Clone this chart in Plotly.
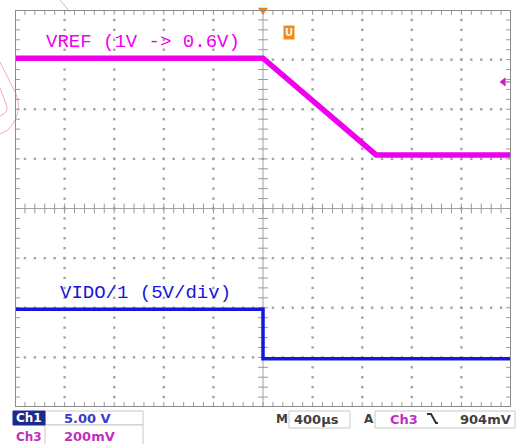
import numpy as np
import plotly.graph_objects as go

# ---------------- data ----------------
t_vref_us = [-2000, 0, 912, 2000]        # Ch3 time points (µs)
vref_v = [1.0, 1.0, 0.61, 0.61]          # Ch3 VREF (V)
t_vido_us = [-2000, 0, 0, 2000]          # Ch1 time points (µs)
vido_v = [5.0, 5.0, 0.0, 0.0]            # Ch1 VIDO (V)
trace_labels = ["VREF (1V -> 0.6V)", "VIDO/1 (5V/div)"]
ch1_scale_label = "5.00 V"
ch3_scale_label = "200mV"
timebase_label = "400µs"
trig_level_label = "904mV"
trig_level_v = 0.904

# ---------------- scope settings ----------------
US_PER_DIV = 400
CH3_V_PER_DIV = 0.2
CH3_REF_V, CH3_REF_DIV = 1.0, 3.03
CH1_V_PER_DIV = 5.0
CH1_ZERO_DIV = -3.03

def ch3_div(v):
    return [(x - CH3_REF_V) / CH3_V_PER_DIV + CH3_REF_DIV for x in v]

def ch1_div(v):
    return [x / CH1_V_PER_DIV + CH1_ZERO_DIV for x in v]

MAGENTA = "#ee00ee"
BLUE = "#1616dc"
GRID = "#a4a4a4"
FRAME = "#8c8c8c"

# pixel -> paper helpers (plot area 15..511 x 10..407)
L, R, T, B = 15, 511, 10, 407
def PX(x):
    return (x - L) / (R - L)
def PY(y):
    return (B - y) / (B - T)

fig = go.Figure()

# ---------------- graticule ----------------
xmin, xmax = -5 * US_PER_DIV, 5 * US_PER_DIV
fine_x = np.arange(xmin, xmax + 1e-6, US_PER_DIV / 5)
fine_y = np.round(np.arange(-4, 4 + 1e-6, 0.2), 3)

dx, dy = [], []
for k in range(-4, 5):
    if k == 0:
        continue
    for yy in fine_y:
        dx.append(k * US_PER_DIV); dy.append(yy)
for j in range(-3, 4):
    if j == 0:
        continue
    for xx in fine_x:
        dx.append(xx); dy.append(j)
fig.add_trace(go.Scatter(x=dx, y=dy, mode="markers", hoverinfo="skip",
                         marker=dict(symbol="square", size=2.4, color=GRID, line=dict(width=0)),
                         showlegend=False))

# center lines
fig.add_shape(type="line", x0=xmin, x1=xmax, y0=0, y1=0, line=dict(color=GRID, width=1), layer="below")
fig.add_shape(type="line", x0=0, x1=0, y0=-4, y1=4, line=dict(color=GRID, width=1), layer="below")

# ticks on center lines and edges
tx = list(fine_x) * 3
ty = [0] * len(fine_x) + [4] * len(fine_x) + [-4] * len(fine_x)
fig.add_trace(go.Scatter(x=tx, y=ty, mode="markers", hoverinfo="skip",
                         marker=dict(symbol="line-ns", size=7, line=dict(color="#999999", width=1)),
                         showlegend=False))
ux = [0] * len(fine_y) + [xmin] * len(fine_y) + [xmax] * len(fine_y)
uy = list(fine_y) * 3
fig.add_trace(go.Scatter(x=ux, y=uy, mode="markers", hoverinfo="skip",
                         marker=dict(symbol="line-ew", size=7, line=dict(color="#999999", width=1)),
                         showlegend=False))

# ---------------- waveforms ----------------
fig.add_trace(go.Scatter(x=t_vref_us, y=ch3_div(vref_v), mode="lines",
                         line=dict(color=MAGENTA, width=5.5), showlegend=False))
fig.add_trace(go.Scatter(x=t_vido_us, y=ch1_div(vido_v), mode="lines",
                         line=dict(color=BLUE, width=3.5), showlegend=False))

# trigger level marker (right edge) and trigger position marker (top)
fig.add_trace(go.Scatter(x=[xmax - 60], y=ch3_div([trig_level_v]), mode="markers",
                         marker=dict(symbol="triangle-left", size=8, color="#c020c0"),
                         cliponaxis=False, showlegend=False))
fig.add_trace(go.Scatter(x=[xmax - 40, xmax - 10], y=ch3_div([trig_level_v]) * 2, mode="lines",
                         line=dict(color="#c020c0", width=1), showlegend=False))
fig.add_trace(go.Scatter(x=[0], y=[4], mode="markers",
                         marker=dict(symbol="triangle-down", size=9, color="#f08010"),
                         cliponaxis=False, showlegend=False))

# frame
fig.add_shape(type="rect", x0=xmin, x1=xmax, y0=-4, y1=4, line=dict(color=FRAME, width=2))

# ---------------- trace labels ----------------
fig.add_annotation(x=PX(44), y=PY(42), xref="paper", yref="paper", text=trace_labels[0],
                   showarrow=False, xanchor="left", yanchor="middle",
                   font=dict(family="Liberation Mono", size=19, color=MAGENTA))
fig.add_annotation(x=PX(58), y=PY(293), xref="paper", yref="paper", text=trace_labels[1],
                   showarrow=False, xanchor="left", yanchor="middle",
                   font=dict(family="Liberation Mono", size=19, color=BLUE))

# "U" marker
fig.add_annotation(x=PX(289), y=PY(25), xref="paper", yref="paper", text="<b>U</b>",
                   showarrow=False, bgcolor="#f08a1c", borderpad=1,
                   font=dict(family="DejaVu Sans", size=10, color="#fff3e0"))

# ---------------- status bar ----------------
SFONT = "DejaVu Sans"
def box(x0, y0, x1, y1, fill="white", line="#c8c8c8"):
    fig.add_shape(type="rect", xref="paper", yref="paper",
                  x0=PX(x0), x1=PX(x1), y0=PY(y1), y1=PY(y0),
                  fillcolor=fill, line=dict(color=line, width=1))

def txt(x, y, s, color, anchor="left", size=13, bold=True):
    fig.add_annotation(x=PX(x), y=PY(y), xref="paper", yref="paper",
                       text=("<b>%s</b>" % s) if bold else s, showarrow=False,
                       xanchor=anchor, yanchor="middle",
                       font=dict(family=SFONT, size=size, color=color))

box(45, 411, 143, 425)
box(45, 425, 143, 446)
box(13, 411, 45, 425, fill="#1c2a8c", line="#1c2a8c")
txt(14, 418.5, "Ch1", "white", size=12)
txt(62, 418.5, ch1_scale_label, "#3a3ad0")
txt(14, 437, "Ch3", "#c030c0", size=12)
txt(62, 437, ch3_scale_label, "#c030c0")

box(289, 411, 350, 428)
box(375, 411, 515, 428)
txt(274, 419, "M", "#404040", size=12)
txt(292, 419, timebase_label, "#404040")
txt(362, 419, "A", "#404040", size=12)
txt(388, 419, "Ch3", "#c030c0")
txt(458, 419, trig_level_label, "#404040")
# falling-edge symbol
fig.add_shape(type="path", xref="paper", yref="paper",
              path="M %f,%f L %f,%f L %f,%f L %f,%f" % (PX(427), PY(414), PX(431), PY(414),
                                                       PX(436), PY(423), PX(438), PY(423)),
              line=dict(color="#303030", width=2))

# faint watermark strokes at left edge
wm = "rgba(225,110,110,0.55)"
fig.add_shape(type="path", xref="paper", yref="paper",
              path="M %f,%f L %f,%f Q %f,%f %f,%f L %f,%f" % (PX(0), PY(62), PX(13), PY(88),
                                                               PX(26), PY(110), PX(8), PY(130), PX(0), PY(134)),
              line=dict(color=wm, width=1))
fig.add_shape(type="path", xref="paper", yref="paper",
              path="M %f,%f L %f,%f Q %f,%f %f,%f" % (PX(0), PY(88), PX(6), PY(104),
                                                       PX(10), PY(112), PX(0), PY(116)),
              line=dict(color=wm, width=1))
fig.add_shape(type="path", xref="paper", yref="paper",
              path="M %f,%f L %f,%f" % (PX(60), PY(0), PX(70), PY(12)),
              line=dict(color=wm, width=1))

fig.update_layout(
    width=522, height=444,
    margin=dict(l=L, r=522 - R, t=T, b=444 - B, pad=0),
    paper_bgcolor="white", plot_bgcolor="white",
    xaxis=dict(range=[xmin, xmax], visible=False, fixedrange=True),
    yaxis=dict(range=[-4, 4], visible=False, fixedrange=True),
    showlegend=False,
)

fig.write_html("out.html", config={"displayModeBar": False},
               post_script="document.body.style.margin='0';")
